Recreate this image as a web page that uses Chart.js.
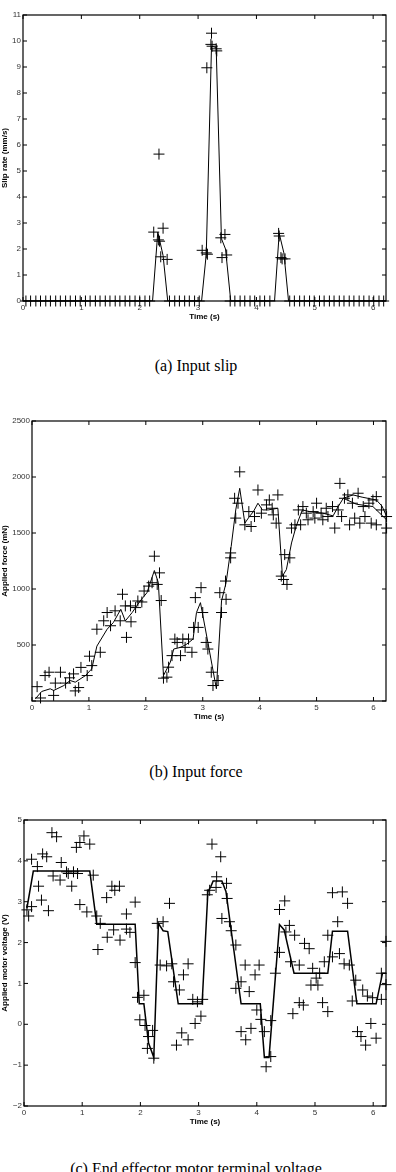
<!DOCTYPE html>
<html>
<head>
<meta charset="utf-8">
<script src="https://cdn.jsdelivr.net/npm/chart.js@4.4.1/dist/chart.umd.min.js"></script>
<style>
  html, body { margin: 0; padding: 0; background: #fff; }
  body { width: 396px; height: 1172px; position: relative; overflow: hidden; }
  .panel { position: absolute; left: 0; width: 396px; }
  .caption { position: absolute; left: 0; width: 392px; text-align: center;
    font-family: 'Liberation Serif', 'Times New Roman', serif; font-size: 16px; line-height: 16px; color: #000; white-space: nowrap; }
</style>
</head>
<body>
<div class="panel" style="top:0;height:330px"><canvas id="slip"></canvas></div>
<div class="caption" style="top:358px">(a) Input slip</div>
<div class="panel" style="top:406px;height:324px"><canvas id="force"></canvas></div>
<div class="caption" style="top:764px">(b) Input force</div>
<div class="panel" style="top:805px;height:330px"><canvas id="volt"></canvas></div>
<div class="caption" style="top:1161px">(c) End effector motor terminal voltage</div>

<script>
// ---- (a) slip rate: measured samples (crosses) and filtered line ----
const slipTime = [0.05, 0.13, 0.22, 0.30, 0.39, 0.47, 0.56, 0.64, 0.73, 0.81, 0.90, 0.98, 1.07, 1.15, 1.24, 1.32,
  1.41, 1.49, 1.58, 1.66, 1.75, 1.83, 1.92, 2.00, 2.09, 2.17,
  2.24, 2.33, 2.32, 2.34, 2.40, 2.36, 2.47,
  2.51, 2.60, 2.68, 2.77, 2.85, 2.94, 3.02,
  3.07, 3.14, 3.16, 3.15, 3.23, 3.22, 3.24, 3.31, 3.32, 3.39, 3.46, 3.41, 3.49,
  3.55, 3.63, 3.72, 3.80, 3.89, 3.97, 4.06, 4.14, 4.23,
  4.38, 4.39, 4.42, 4.44, 4.49,
  4.57, 4.65, 4.74, 4.82, 4.91, 4.99, 5.08, 5.16, 5.25, 5.33, 5.42, 5.50, 5.59, 5.67, 5.76, 5.84, 5.93, 6.01, 6.10, 6.18];
const slipRate = [0, 0, 0, 0, 0, 0, 0, 0, 0, 0, 0, 0, 0, 0, 0, 0,
  0, 0, 0, 0, 0, 0, 0, 0, 0, 0,
  2.65, 5.65, 2.35, 2.30, 2.80, 1.70, 1.60,
  0, 0, 0, 0, 0, 0, 0,
  1.95, 1.85, 1.80, 8.97, 10.30, 9.87, 9.80, 9.70, 9.62, 2.43, 2.56, 1.67, 1.77,
  0, 0, 0, 0, 0, 0, 0, 0, 0,
  2.60, 2.50, 1.67, 1.62, 1.62,
  0, 0, 0, 0, 0, 0, 0, 0, 0, 0, 0, 0, 0, 0, 0, 0, 0, 0, 0, 0];
const slipLineTime = [0, 2.22, 2.31, 2.40, 2.48, 3.06, 3.14, 3.23, 3.31, 3.40, 3.47, 3.56, 4.31, 4.39, 4.47, 4.55, 6.22];
const slipLineRate = [0, 0, 2.65, 1.75, 0, 0, 1.8, 9.8, 9.75, 2.4, 2.0, 0, 0, 2.6, 1.85, 0, 0];

// ---- (b) applied force ----
const forceTime = [0.09, 0.15, 0.23, 0.30, 0.38, 0.41, 0.50, 0.59, 0.66, 0.73, 0.76, 0.82, 0.86, 0.97, 1.01, 1.05,
  1.14, 1.20, 1.26, 1.32, 1.38, 1.46, 1.55, 1.59, 1.64, 1.66, 1.73, 1.74, 1.82, 1.86, 1.93, 1.97,
  2.05, 2.11, 2.15, 2.20, 2.24, 2.27, 2.31, 2.37, 2.40, 2.46, 2.51, 2.55, 2.61, 2.65, 2.69, 2.75,
  2.81, 2.84, 2.87, 2.92, 2.97, 3.00, 3.06, 3.09, 3.15, 3.18, 3.27, 3.30, 3.33, 3.40, 3.41, 3.49,
  3.49, 3.56, 3.58, 3.62, 3.65, 3.74, 3.81, 3.85, 3.91, 3.97, 4.03, 4.12, 4.17, 4.22, 4.24, 4.29,
  4.32, 4.38, 4.42, 4.48, 4.44, 4.53, 4.56, 4.62, 4.68, 4.72, 4.76, 4.82, 4.85, 4.94, 4.97, 5.00,
  5.08, 5.11, 5.17, 5.20, 5.28, 5.32, 5.38, 5.41, 5.44, 5.49, 5.55, 5.58, 5.63, 5.67, 5.73, 5.76,
  5.82, 5.85, 5.92, 5.96, 5.99, 6.05, 6.05, 6.14, 6.23, 6.23];
const forceValue = [128, 27, 227, 257, 50, 160, 257, 160, 207, 242, 90, 120, 300, 227, 400, 316,
  641, 435, 716, 790, 672, 805, 716, 953, 849, 568, 849, 707, 834, 893, 884, 982,
  1026, 1056, 1293, 1041, 1144, 897, 204, 213, 302, 405, 553, 523, 405, 553, 479, 553,
  435, 657, 923, 657, 1012, 790, 523, 464, 257, 138, 183, 967, 790, 1071, 908, 1322,
  1278, 1810, 1633, 1766, 2046, 1573, 1691, 1558, 1647, 1884, 1677, 1751, 1795, 1721, 1662, 1588,
  1840, 1115, 1085, 1041, 1307, 1278, 1544, 1573, 1706, 1573, 1736, 1677, 1618, 1691, 1633, 1766,
  1677, 1618, 1721, 1647, 1736, 1544, 1706, 1943, 1647, 1810, 1840, 1573, 1766, 1633, 1855, 1588,
  1736, 1647, 1766, 1588, 1795, 1825, 1573, 1706, 1647, 1544];
const forceLineTime = [0.06, 0.17, 0.32, 0.38, 0.56, 0.67, 0.76, 0.94, 1.05, 1.14, 1.32, 1.43, 1.56, 1.64, 1.76, 1.90,
  2.02, 2.15, 2.22, 2.31, 2.43, 2.49, 2.61, 2.72, 2.83, 2.89, 2.96, 3.09, 3.24, 3.33, 3.41, 3.50,
  3.58, 3.65, 3.74, 3.82, 3.89, 3.97, 4.05, 4.15, 4.32, 4.40, 4.47, 4.56, 4.64, 4.75, 4.88, 5.11,
  5.29, 5.38, 5.47, 5.70, 5.99, 6.23];
const forceLineValue = [20, 85, 109, 94, 138, 183, 168, 227, 287, 490, 641, 701, 819, 715, 790, 893,
  967, 1165, 1056, 227, 346, 464, 479, 508, 553, 790, 878, 523, 109, 893, 1056, 1381,
  1706, 1899, 1588, 1647, 1691, 1766, 1706, 1706, 1721, 1115, 1174, 1411, 1558, 1706, 1691, 1677,
  1653, 1736, 1810, 1757, 1736, 1618];
// second trace that splits off near the end
const forceLine2Time = [5.47, 5.64, 5.80, 6.05, 6.15, 6.23];
const forceLine2Value = [1810, 1840, 1820, 1795, 1740, 1650];

// ---- (c) motor voltage ----
const voltTime = [0.05, 0.08, 0.13, 0.13, 0.23, 0.25, 0.30, 0.32, 0.39, 0.42, 0.48, 0.56, 0.50, 0.62, 0.64, 0.73,
  0.76, 0.82, 0.85, 0.90, 0.92, 0.96, 0.96, 1.03, 1.08, 1.13, 1.19, 1.25, 1.27, 1.31, 1.42, 1.43,
  1.51, 1.56, 1.54, 1.64, 1.65, 1.76, 1.76, 1.82, 1.91, 1.91, 1.95, 1.99, 2.06, 2.08, 2.14, 2.12,
  2.21, 2.23, 2.29, 2.39, 2.50, 2.34, 2.45, 2.54, 2.57, 2.67, 2.74, 2.82, 2.62, 2.71, 2.82, 2.90,
  2.94, 2.98, 3.07, 3.04, 3.15, 3.19, 3.23, 3.31, 3.30, 3.38, 3.40, 3.48, 3.49, 3.53, 3.56, 3.64,
  3.64, 3.73, 3.80, 3.87, 3.73, 3.81, 3.90, 3.97, 4.04, 4.00, 4.07, 4.13, 4.16, 4.24, 4.24, 4.32,
  4.39, 4.39, 4.48, 4.50, 4.56, 4.65, 4.62, 4.58, 4.73, 4.73, 4.80, 4.82, 4.90, 4.93, 4.96, 5.02,
  5.05, 5.08, 5.13, 5.16, 5.22, 5.22, 5.30, 5.30, 5.39, 5.42, 5.47, 5.50, 5.56, 5.59, 5.70, 5.64,
  5.73, 5.79, 5.87, 5.82, 5.90, 5.96, 5.99, 6.05, 6.14, 6.14, 6.22, 6.22];
const voltValue = [2.80, 2.65, 2.88, 4.04, 3.86, 3.38, 3.04, 4.17, 4.10, 2.78, 4.69, 4.59, 3.63, 3.53, 3.96, 3.73,
  3.69, 3.38, 3.73, 4.33, 3.69, 2.93, 4.45, 4.61, 2.75, 4.41, 3.65, 2.65, 1.83, 2.47, 3.10, 2.13,
  3.38, 3.28, 2.31, 3.38, 2.06, 2.70, 2.33, 2.25, 2.99, 1.51, 0.66, 0.11, 0.71, -0.03, -0.30, -0.59,
  -0.15, -0.83, 2.47, 2.51, 2.96, 1.45, 1.43, 1.48, 1.04, 0.84, 1.21, 1.48, -0.51, -0.21, -0.38, 0.61,
  0.02, 0.55, 0.61, 0.20, 3.17, 3.28, 4.41, 3.61, 3.35, 4.10, 2.59, 3.45, 3.08, 2.51, 2.29, 1.94,
  0.88, 1.04, 1.45, 0.80, -0.18, -0.38, -0.10, 1.21, 1.45, 0.35, 0.12, -0.18, -1.04, -0.79, 0.09, 1.25,
  1.76, 2.81, 3.02, 2.26, 2.42, 2.18, 0.26, 1.53, 1.45, 0.53, 0.47, 1.98, 1.85, 0.96, 1.37, 1.13,
  0.96, 1.25, 0.53, 1.53, 0.31, 2.18, 3.22, 1.65, 2.51, 1.73, 3.24, 1.48, 2.96, 1.45, 1.08, 0.57,
  -0.18, -0.30, -0.51, 0.84, 0.69, 0.02, 0.65, -0.34, 0.61, 1.25, 2.03, 0.97];
const voltLineTime = [0.05, 0.16, 1.13, 1.25, 1.91, 1.98, 2.06, 2.14, 2.23, 2.31, 2.39, 2.47, 2.65, 3.06, 3.16, 3.21,
  3.25, 3.40, 3.47, 3.73, 4.06, 4.13, 4.21, 4.39, 4.47, 4.64, 5.22, 5.30, 5.56, 5.72, 6.05, 6.16, 6.22];
const voltLineValue = [2.84, 3.75, 3.75, 2.45, 2.45, 0.50, 0.50, -0.46, -0.81, 2.47, 2.29, 2.27, 0.50, 0.50, 3.25, 3.37,
  3.51, 3.51, 3.25, 0.50, 0.50, -0.81, -0.81, 2.44, 2.31, 1.25, 1.25, 2.28, 2.28, 0.50, 0.50, 1.25, 1.25];

const timeTicks = [0, 1, 2, 3, 4, 5, 6];

Chart.defaults.font.family = "'Liberation Sans', Arial, sans-serif";
Chart.defaults.font.size = 8;

function pts(xs, ys) {
  return xs.map((x, i) => ({ x: x, y: ys[i] }));
}

// matlab style box with inward tick marks on all four sides
const matlabBox = {
  id: 'matlabBox',
  afterDatasetsDraw(chart) {
    const { ctx, chartArea: a, scales } = chart;
    const len = 4;
    ctx.save();
    ctx.strokeStyle = '#000';
    ctx.lineWidth = 1;
    ctx.beginPath();
    scales.x.ticks.forEach(t => {
      const px = scales.x.getPixelForValue(t.value);
      ctx.moveTo(px, a.bottom); ctx.lineTo(px, a.bottom - len);
      ctx.moveTo(px, a.top); ctx.lineTo(px, a.top + len);
    });
    scales.y.ticks.forEach(t => {
      const py = scales.y.getPixelForValue(t.value);
      ctx.moveTo(a.left, py); ctx.lineTo(a.left + len, py);
      ctx.moveTo(a.right, py); ctx.lineTo(a.right - len, py);
    });
    ctx.stroke();
    ctx.lineWidth = 1.2;
    ctx.strokeRect(a.left, a.top, a.right - a.left, a.bottom - a.top);
    ctx.restore();
  }
};

function markers(xs, ys) {
  return {
    data: pts(xs, ys), showLine: false, pointStyle: 'cross', pointRadius: 5.5,
    pointBorderWidth: 1, borderColor: '#000', backgroundColor: '#000', clip: false
  };
}

function trace(xs, ys, w) {
  return {
    data: pts(xs, ys), showLine: true, pointRadius: 0, borderWidth: w,
    borderColor: '#000', tension: 0, fill: false
  };
}

function makeChart(id, datasets, y) {
  return new Chart(document.getElementById(id), {
    type: 'scatter',
    data: { datasets: datasets },
    options: {
      responsive: true,
      maintainAspectRatio: false,
      animation: false,
      events: [],
      layout: { padding: { top: 15, right: 10, left: 0, bottom: 0 } },
      plugins: { legend: { display: false }, tooltip: { enabled: false } },
      scales: {
        x: {
          type: 'linear', min: 0, max: 6.22,
          grid: { display: false, drawTicks: false }, border: { display: false },
          afterBuildTicks: s => { s.ticks = timeTicks.map(v => ({ value: v })); },
          ticks: { padding: 2, color: '#333', maxRotation: 0, callback: v => String(v) },
          title: { display: true, text: 'Time (s)', color: '#000', font: { size: 8, weight: 'bold' }, padding: { top: 0, bottom: 8 } },
          afterFit: s => { s.height = 29; }
        },
        y: {
          type: 'linear', min: y.min, max: y.max,
          grid: { display: false, drawTicks: false }, border: { display: false },
          afterBuildTicks: s => { s.ticks = y.ticks.map(v => ({ value: v })); },
          ticks: { padding: 2, color: '#333', callback: y.format },
          title: { display: true, text: y.title, color: '#000', font: { size: 8, weight: 'bold' }, padding: { top: 0, bottom: 0 } },
          afterFit: s => { s.width = y.width; }
        }
      }
    },
    plugins: [matlabBox]
  });
}

makeChart('slip', [
  trace(slipLineTime, slipLineRate, 1),
  markers(slipTime, slipRate)
], {
  min: 0, max: 11, ticks: [0, 1, 2, 3, 4, 5, 6, 7, 8, 9, 10, 11], width: 23,
  title: 'Slip rate (mm/s)', format: v => String(v)
});

makeChart('force', [
  trace(forceLineTime, forceLineValue, 1),
  trace(forceLine2Time, forceLine2Value, 1),
  markers(forceTime, forceValue)
], {
  min: 0, max: 2500, ticks: [0, 500, 1000, 1500, 2000, 2500], width: 32,
  title: 'Applied force (mN)', format: v => (v === 0 ? '' : String(v))
});

makeChart('volt', [
  trace(voltLineTime, voltLineValue, 1.5),
  markers(voltTime, voltValue)
], {
  min: -2, max: 5, ticks: [-2, -1, 0, 1, 2, 3, 4, 5], width: 24,
  title: 'Applied motor voltage (V)', format: v => (v < 0 ? '\u2212' + Math.abs(v) : String(v))
});
</script>
</body>
</html>
